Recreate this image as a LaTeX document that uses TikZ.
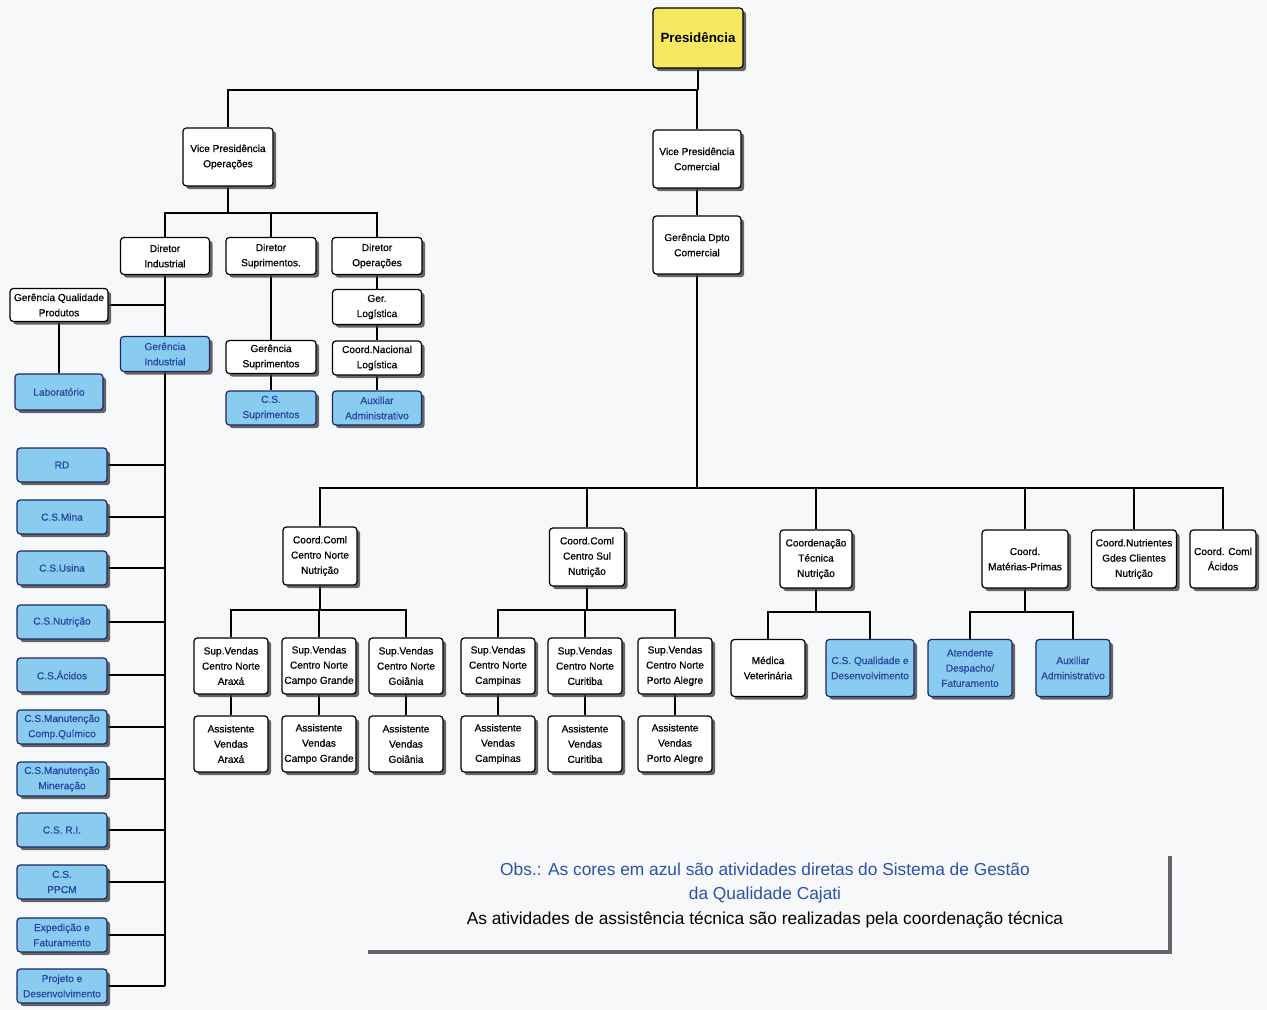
\documentclass[tikz,border=0pt]{standalone}
\usepackage{fontspec}
\setmainfont{Liberation Sans}
\newfontfamily\boxface[FakeBold=0.7]{Liberation Sans}
\usetikzlibrary{shadows}
\pgfdeclarelayer{paper}
\pgfdeclarelayer{lines}
\pgfsetlayers{paper,lines,main}
\definecolor{bgpaper}{RGB}{246,248,250}
\definecolor{boxblue}{RGB}{138,204,240}
\definecolor{blueedge}{RGB}{28,40,96}
\definecolor{bluetext}{RGB}{40,70,165}
\definecolor{presyellow}{RGB}{246,232,96}
\definecolor{notegray}{RGB}{100,100,105}
\definecolor{noteblue}{RGB}{45,80,170}
\begin{document}
\begin{tikzpicture}[x=0.75pt,y=-0.75pt,
  box/.style={draw=black, line width=0.9pt, rounded corners=2.5pt, fill=white,
    align=center, inner sep=0.5pt, font=\boxface\fontsize{7.6}{11.4}\selectfont,
    drop shadow={shadow xshift=2.4pt, shadow yshift=-2.4pt, fill=black!75, opacity=0.8}},
  bluebox/.style={box, fill=boxblue, draw=blueedge, text=bluetext},
  presbox/.style={box, fill=presyellow, font=\fontsize{10}{12}\selectfont\bfseries},
  sz/.style 2 args={minimum width=#1*0.75pt, minimum height=#2*0.75pt},
  link/.style={draw=black, line width=1.1pt},
  notetext/.style={font=\fontsize{13}{18}\selectfont, align=center}]

% paper
\begin{pgfonlayer}{paper}
  \fill[bgpaper] (0,0) rectangle (1267,1010);
\end{pgfonlayer}
\useasboundingbox (0,0) rectangle (1267,1010);

% ---------- boxes ----------
\node[presbox, sz={90}{60}] (pres) at (698,38) {Presidência};

\node[box, sz={90}{58}] (vpop) at (228,157) {Vice Presidência\\Operações};
\node[box, sz={88}{58}] (vpcom) at (697,159) {Vice Presidência\\Comercial};
\node[box, sz={88}{58}] (gerdpto) at (697,245) {Gerência Dpto\\Comercial};

\node[box, sz={89}{37}] (dirind) at (165,256) {Diretor\\Industrial};
\node[box, sz={90}{37}] (dirsup) at (271,256) {Diretor\\Suprimentos.};
\node[box, sz={90}{37}] (dirop) at (377,256) {Diretor\\Operações};

\node[box, sz={98}{33}] (gqp) at (59,305) {Gerência Qualidade\\Produtos};
\node[bluebox, sz={88}{36}] (lab) at (59,392) {Laboratório};
\node[bluebox, sz={89}{35}] (gerind) at (165,354) {Gerência\\Industrial};

\node[box, sz={90}{33}] (gersup) at (271,357) {Gerência\\Suprimentos};
\node[bluebox, sz={90}{34}] (cssup) at (271,408) {C.S.\\Suprimentos};

\node[box, sz={89}{35}] (gerlog) at (377,307) {Ger.\\Logística};
\node[box, sz={89}{34}] (coordlog) at (377,358) {Coord.Nacional\\Logística};
\node[bluebox, sz={89}{34}] (auxadmA) at (377,408) {Auxiliar\\Administrativo};

% left column under Diretor Industrial
\foreach \nm/\yy/\tx in {
  rd/465/{RD},
  mina/517/{C.S.Mina},
  usina/568/{C.S.Usina},
  nutri/622/{C.S.Nutrição},
  acidos/675/{C.S.Ácidos},
  mcomp/727/{C.S.Manutenção\\Comp.Químico},
  mmin/779/{C.S.Manutenção\\Mineração},
  ri/830/{C.S. R.I.},
  ppcm/882/{C.S.\\PPCM},
  exped/935/{Expedição e\\Faturamento},
  proj/986/{Projeto e\\Desenvolvimento}}
  \node[bluebox, sz={90}{34}] (\nm) at (62,\yy) {\tx};

% commercial branch
\node[box, sz={74}{58}] (ccn) at (320,556) {Coord.Coml\\Centro Norte\\Nutrição};
\node[box, sz={75}{58}] (ccs) at (587,557) {Coord.Coml\\Centro Sul\\Nutrição};
\node[box, sz={72}{58}] (ctec) at (816,559) {Coordenação\\Técnica\\Nutrição};
\node[box, sz={86}{58}] (cmp) at (1025,559) {Coord.\\Matérias-Primas};
\node[box, sz={85}{58}] (cnut) at (1134,559) {Coord.Nutrientes\\Gdes Clientes\\Nutrição};
\node[box, sz={66}{58}] (cacid) at (1223,559) {Coord. Coml\\Ácidos};

\foreach \nm/\xx/\city in {sA/231/Araxá, sCG/319/Campo Grande, sG/406/Goiânia,
                           sCp/498/Campinas, sCu/585/Curitiba, sPA/675/Porto Alegre}{
  \node[box, sz={74}{56}] (sup\nm) at (\xx,666) {Sup.Vendas\\Centro Norte\\\city};
  \node[box, sz={74}{56}] (ass\nm) at (\xx,744) {Assistente\\Vendas\\\city};
}

\node[box, sz={74}{57}] (med) at (768,668) {Médica\\Veterinária};
\node[bluebox, sz={88}{57}] (csq) at (870,668) {C.S. Qualidade e\\Desenvolvimento};
\node[bluebox, sz={84}{57}] (aten) at (970,668) {Atendente\\Despacho/\\Faturamento};
\node[bluebox, sz={74}{57}] (auxadmB) at (1073,668) {Auxiliar\\Administrativo};

% ---------- connectors (behind the boxes) ----------
\begin{pgfonlayer}{lines}
  \coordinate (topbar) at (698,90);
  \draw[link] (pres.south) -- (topbar);
  \draw[link] (vpop.north) |- (topbar) -| (vpcom.north);
  \draw[link] (vpcom) -- (gerdpto);

  \coordinate (opbar) at (228,213);
  \draw[link] (vpop.south) -- (opbar);
  \draw[link] (dirind.north) |- (opbar) -| (dirop.north);
  \draw[link] (dirsup.north) -- (dirsup.north |- opbar);

  \coordinate (indend) at (165,986);
  \draw[link] (dirind.south) -- (indend);
  \draw[link] (gqp.east) -- (gqp.east -| indend);
  \draw[link] (gqp.south) -- (lab.north);
  \foreach \nm in {rd,mina,usina,nutri,acidos,mcomp,mmin,ri,ppcm,exped,proj}
    \draw[link] (\nm.east) -- (\nm.east -| indend);

  \draw[link] (dirsup.south) -- (gersup.north);
  \draw[link] (gersup.south) -- (cssup.north);
  \draw[link] (dirop.south) -- (gerlog.north);
  \draw[link] (gerlog.south) -- (coordlog.north);
  \draw[link] (coordlog.south) -- (auxadmA.north);

  \coordinate (combar) at (697,488);
  \draw[link] (gerdpto.south) -- (combar);
  \draw[link] (ccn.north) |- (combar) -| (cacid.north);
  \foreach \nm in {ccs,ctec,cmp,cnut}
    \draw[link] (\nm.north) -- (\nm.north |- combar);

  \coordinate (cnbar) at (320,610);
  \draw[link] (ccn.south) -- (cnbar);
  \draw[link] (supsA.north) |- (cnbar) -| (supsG.north);
  \draw[link] (supsCG.north) -- (supsCG.north |- cnbar);

  \coordinate (csbar) at (587,610);
  \draw[link] (ccs.south) -- (csbar);
  \draw[link] (supsCp.north) |- (csbar) -| (supsPA.north);
  \draw[link] (supsCu.north) -- (supsCu.north |- csbar);

  \foreach \nm in {sA,sCG,sG,sCp,sCu,sPA}
    \draw[link] (sup\nm.south) -- (ass\nm.north);

  \coordinate (ctbar) at (816,612);
  \draw[link] (ctec.south) -- (ctbar);
  \draw[link] (med.north) |- (ctbar) -| (csq.north);

  \coordinate (mpbar) at (1025,612);
  \draw[link] (cmp.south) -- (mpbar);
  \draw[link] (aten.north) |- (mpbar) -| (auxadmB.north);
\end{pgfonlayer}

% ---------- note ----------
\coordinate (noteL) at (368,952);
\coordinate (noteC) at (1170,952);
\coordinate (noteT) at (1170,856);
\draw[notegray, line width=3pt] (noteL) -- (noteC) -- (noteT);
\node[notetext, text=noteblue] (obs) at (765,883)
  {Obs.: As cores em azul são atividades diretas do Sistema de Gestão\\da Qualidade Cajati};
\node[notetext, text=black] (assist) at (765,920)
  {As atividades de assistência técnica são realizadas pela coordenação técnica};
\end{tikzpicture}
\end{document}
